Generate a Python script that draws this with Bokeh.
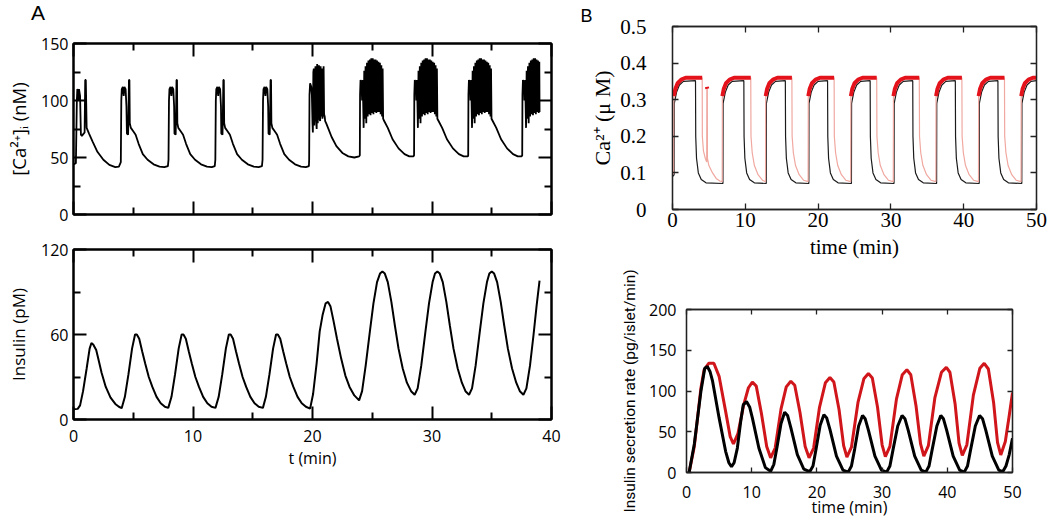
from bokeh.plotting import figure
from bokeh.models import LinearAxis, FixedTicker, Range1d, Spacer, Div
from bokeh.layouts import row, column
from bokeh.embed import file_html
from bokeh.resources import INLINE

# ---------------- Panel A (top): cytosolic Ca2+ (nM) ----------------
ca_t = [0.0, 0.2, 0.28, 0.32, 0.38, 0.42, 0.46, 0.55, 0.62, 0.7, 0.93, 0.98, 1.03, 1.1, 1.3, 1.6, 2.0, 2.5, 3.0, 3.5, 3.8, 3.96,
        4.0, 4.04, 4.13, 4.2, 4.26, 4.36, 4.43, 4.47, 4.57, 4.61, 4.64, 4.68, 4.71, 4.8, 5.0, 5.2, 5.45, 5.8, 6.2, 6.7, 7.2, 7.6, 7.9,
        7.95, 7.99, 8.03, 8.12, 8.19, 8.25, 8.35, 8.42, 8.45, 8.55, 8.59, 8.62, 8.66, 8.69, 8.77, 8.97, 9.17, 9.42, 9.77, 10.17, 10.67, 11.17, 11.57, 11.82,
        11.87, 11.91, 11.95, 12.04, 12.11, 12.17, 12.27, 12.34, 12.37, 12.47, 12.51, 12.54, 12.58, 12.61, 12.69, 12.89, 13.09, 13.34, 13.69, 14.09, 14.59, 15.09, 15.49, 15.77,
        15.82, 15.86, 15.9, 15.99, 16.06, 16.12, 16.22, 16.29, 16.32, 16.42, 16.46, 16.49, 16.53, 16.56, 16.64, 16.84, 17.04, 17.29, 17.64, 18.04, 18.54, 19.04, 19.44, 19.7,
        19.72, 19.75, 19.8, 19.9, 19.95, 20.0, 20.03, 20.07, 20.11, 20.15, 20.2, 20.25, 20.29, 20.35, 20.39, 20.44, 20.5, 20.54, 20.58, 20.64, 20.68, 20.72, 20.78, 20.83, 20.88, 20.93, 20.97, 21.02, 21.06, 21.15, 21.3, 21.6, 22.0, 22.5, 23.0, 23.5, 23.9,
        23.96, 23.98, 24.02, 24.1, 24.15, 24.2, 24.24, 24.28, 24.33, 24.38, 24.44, 24.5, 24.56, 24.62, 24.68, 24.74, 24.8, 24.86, 24.92, 24.98, 25.04, 25.1, 25.16, 25.22, 25.28, 25.34, 25.4, 25.46, 25.52, 25.58, 25.64, 25.7, 25.76, 25.82, 25.87, 25.91, 26.0, 26.3, 26.7, 27.2, 27.7, 28.1, 28.45,
        28.5, 28.52, 28.56, 28.64, 28.69, 28.74, 28.78, 28.82, 28.87, 28.92, 28.98, 29.04, 29.1, 29.16, 29.22, 29.28, 29.34, 29.4, 29.46, 29.52, 29.58, 29.64, 29.7, 29.76, 29.82, 29.88, 29.94, 30.0, 30.06, 30.12, 30.18, 30.24, 30.3, 30.36, 30.41, 30.45, 30.55, 30.85, 31.25, 31.75, 32.25, 32.65, 33.0,
        33.03, 33.05, 33.09, 33.17, 33.22, 33.27, 33.31, 33.35, 33.4, 33.45, 33.51, 33.57, 33.63, 33.69, 33.75, 33.81, 33.87, 33.93, 33.99, 34.05, 34.11, 34.17, 34.23, 34.29, 34.35, 34.41, 34.47, 34.53, 34.59, 34.65, 34.71, 34.77, 34.83, 34.89, 34.94, 34.98, 35.08, 35.38, 35.78, 36.28, 36.78, 37.18, 37.5,
        37.55, 37.57, 37.61, 37.69, 37.74, 37.79, 37.83, 37.87, 37.92, 37.97, 38.03, 38.09, 38.15, 38.21, 38.27, 38.33, 38.39, 38.45, 38.51, 38.57, 38.63, 38.69, 38.75, 38.81, 38.87, 38.93, 38.98, 39.0]
ca_v = [44, 45, 100, 110, 108, 100, 110, 104, 70, 69, 72, 118, 118, 76, 71, 64, 55, 48, 43.5, 41.5, 42, 46,
        100, 110, 112, 104, 112, 110, 95, 71, 70, 95, 118, 118, 80, 76, 73, 70, 62, 53, 48, 44, 42, 41.5, 42.5,
        48, 100, 110, 112, 104, 112, 110, 95, 71, 70, 95, 118, 118, 80, 76, 73, 70, 62, 53, 48, 44, 42, 41.5, 42.5,
        48, 100, 110, 112, 104, 112, 110, 95, 71, 70, 95, 118, 118, 80, 76, 73, 70, 62, 53, 48, 44, 42, 41.5, 42.5,
        48, 100, 110, 112, 104, 112, 110, 95, 71, 70, 95, 118, 118, 80, 76, 73, 70, 62, 53, 48, 44, 42, 41.5, 42.5,
        48, 105, 115, 112, 104, 80, 72, 125, 128, 78, 120, 130, 85, 75, 132, 80, 125, 131, 84, 82, 130, 86, 128, 84, 88, 130, 88, 86, 82, 80, 76, 68, 60, 54, 51, 50, 51,
        52, 105, 118, 116, 100, 118, 98, 76, 126, 84, 130, 80, 133, 86, 135, 88, 136, 87, 137, 89, 137, 88, 136, 90, 136, 89, 135, 90, 134, 90, 133, 88, 131, 86, 128, 84, 82, 76, 66, 58, 53, 51, 51,
        52, 105, 118, 116, 100, 118, 98, 76, 126, 84, 130, 80, 133, 86, 135, 88, 136, 87, 137, 89, 137, 88, 136, 90, 136, 89, 135, 90, 134, 90, 133, 88, 131, 86, 128, 84, 82, 76, 66, 58, 53, 51, 51,
        52, 105, 118, 116, 100, 118, 98, 76, 126, 84, 130, 80, 133, 86, 135, 88, 136, 87, 137, 89, 137, 88, 136, 90, 136, 89, 135, 90, 134, 90, 133, 88, 131, 86, 128, 84, 82, 76, 66, 58, 53, 51, 51,
        52, 105, 118, 116, 100, 118, 98, 76, 126, 84, 130, 80, 133, 86, 135, 88, 136, 87, 137, 89, 137, 88, 136, 90, 135, 89, 134, 90]

# ---------------- Panel A (bottom): insulin (pM) ----------------
ins_t = [0.0, 0.35, 0.55, 0.8, 1.1, 1.35, 1.5, 1.65, 1.9, 2.1, 2.35, 2.7, 3.1, 3.5, 3.8, 4.03,
         4.3, 4.6, 4.9, 5.15, 5.3, 5.5, 5.75, 6.0, 6.3, 6.6, 6.95, 7.3, 7.65, 7.93,
         8.2, 8.5, 8.8, 9.05, 9.2, 9.4, 9.65, 9.9, 10.2, 10.5, 10.85, 11.2, 11.55, 11.88,
         12.15, 12.45, 12.75, 13.0, 13.15, 13.35, 13.6, 13.85, 14.15, 14.45, 14.8, 15.15, 15.5, 15.85,
         16.1, 16.4, 16.7, 16.95, 17.1, 17.3, 17.55, 17.8, 18.1, 18.4, 18.75, 19.1, 19.45, 19.8,
         20.05, 20.35, 20.6, 20.85, 21.1, 21.3, 21.5, 21.75, 22.05, 22.4, 22.75, 23.1, 23.5, 23.9,
         24.15, 24.45, 24.8, 25.1, 25.4, 25.65, 25.85, 26.05, 26.3, 26.6, 26.9, 27.2, 27.55, 27.9, 28.25, 28.55,
         28.8, 29.1, 29.45, 29.75, 30.05, 30.25, 30.45, 30.65, 30.9, 31.2, 31.5, 31.8, 32.15, 32.5, 32.8, 33.1,
         33.35, 33.65, 34.0, 34.3, 34.6, 34.8, 35.0, 35.2, 35.45, 35.75, 36.05, 36.35, 36.7, 37.05, 37.35, 37.65,
         37.9, 38.2, 38.5, 38.75, 39.0]
ins_v = [7.3, 7.5, 10, 20, 36, 50, 54, 53, 49, 42, 33, 23, 15.5, 11, 9, 8,
         16, 32, 50, 60, 60, 57, 48, 39.5, 30, 23, 16, 11.5, 9, 8.2,
         16, 32, 50, 60, 60, 57, 48, 39.5, 30, 23, 16, 11.5, 9, 8.2,
         16, 32, 50, 60, 60, 57, 48, 39.5, 30, 23, 16, 11.5, 9, 8.2,
         16, 32, 50, 60, 60, 57, 48, 39.5, 30, 23, 16, 11.5, 9, 7.7,
         18, 40, 62, 74, 82, 83, 80, 70, 57, 43, 31, 23, 17, 13.5,
         20, 38, 62, 82, 97, 103, 104.5, 103, 97, 83, 66, 50, 36, 26, 20, 17.5,
         22, 38, 62, 82, 97, 103, 104.5, 103, 97, 83, 66, 50, 36, 26, 20, 17.5,
         22, 38, 62, 82, 97, 103, 104.5, 103, 97, 83, 66, 50, 36, 26, 20, 17.5,
         22, 38, 60, 80, 98]

# ---------------- Panel B (top): Ca2+ (uM), two simulations ----------------
cab_t = [0.0, 0.22, 0.25, 0.55, 0.95, 1.5, 3.16, 3.19, 3.3, 3.55, 3.95, 4.6, 6.93,
         6.95, 7.25, 7.65, 8.2, 9.8, 9.83, 9.94, 10.19, 10.59, 11.24, 12.88,
         12.9, 13.2, 13.6, 14.15, 15.5, 15.53, 15.64, 15.89, 16.29, 16.94, 18.73,
         18.75, 19.05, 19.45, 20.0, 21.3, 21.33, 21.44, 21.69, 22.09, 22.74, 24.58,
         24.6, 24.9, 25.3, 25.85, 27.15, 27.18, 27.29, 27.54, 27.94, 28.59, 30.43,
         30.45, 30.75, 31.15, 31.7, 33.0, 33.03, 33.14, 33.39, 33.79, 34.44, 36.28,
         36.3, 36.6, 37.0, 37.55, 38.85, 38.88, 38.99, 39.24, 39.64, 40.29, 42.13,
         42.15, 42.45, 42.85, 43.4, 44.7, 44.73, 44.84, 45.09, 45.49, 46.14, 47.98,
         48.0, 48.3, 48.7, 49.25, 50.0]
cab_v = [0.09, 0.095, 0.29, 0.32, 0.34, 0.35, 0.352, 0.2, 0.14, 0.1, 0.082, 0.073, 0.071,
         0.29, 0.32, 0.34, 0.35, 0.352, 0.2, 0.14, 0.1, 0.082, 0.073, 0.071,
         0.29, 0.32, 0.34, 0.35, 0.352, 0.2, 0.14, 0.1, 0.082, 0.073, 0.071,
         0.29, 0.32, 0.34, 0.35, 0.352, 0.2, 0.14, 0.1, 0.082, 0.073, 0.071,
         0.29, 0.32, 0.34, 0.35, 0.352, 0.2, 0.14, 0.1, 0.082, 0.073, 0.071,
         0.29, 0.32, 0.34, 0.35, 0.352, 0.2, 0.14, 0.1, 0.082, 0.073, 0.071,
         0.29, 0.32, 0.34, 0.35, 0.352, 0.2, 0.14, 0.1, 0.082, 0.073, 0.071,
         0.29, 0.32, 0.34, 0.35, 0.352, 0.2, 0.14, 0.1, 0.082, 0.073, 0.071,
         0.29, 0.32, 0.34, 0.35, 0.352]

car_t = [0.0, 0.15, 0.18, 0.4, 0.7, 1.2, 1.8, 4.08, 4.1, 4.25, 4.5, 4.7, 4.72, 4.78, 4.8, 5.0, 5.5, 6.0, 6.5, 6.83,
         6.85, 7.05, 7.35, 7.85, 8.45, 10.75, 10.78, 10.95, 11.25, 11.75, 12.35, 12.78,
         12.8, 13.0, 13.3, 13.8, 14.4, 16.4, 16.43, 16.6, 16.9, 17.4, 18.0, 18.63,
         18.65, 18.85, 19.15, 19.65, 20.25, 22.2, 22.23, 22.4, 22.7, 23.2, 23.8, 24.48,
         24.5, 24.7, 25.0, 25.5, 26.1, 28.05, 28.08, 28.25, 28.55, 29.05, 29.65, 30.33,
         30.35, 30.55, 30.85, 31.35, 31.95, 33.9, 33.93, 34.1, 34.4, 34.9, 35.5, 36.18,
         36.2, 36.4, 36.7, 37.2, 37.8, 39.75, 39.78, 39.95, 40.25, 40.75, 41.35, 42.03,
         42.05, 42.25, 42.55, 43.05, 43.65, 45.6, 45.63, 45.8, 46.1, 46.6, 47.2, 47.88,
         47.9, 48.1, 48.4, 48.9, 49.5, 50.0]
car_v = [0.095, 0.1, 0.31, 0.33, 0.345, 0.355, 0.36, 0.36, 0.2, 0.16, 0.14, 0.13, 0.335, 0.33, 0.14, 0.12, 0.1, 0.085, 0.078, 0.076,
         0.31, 0.33, 0.345, 0.355, 0.36, 0.36, 0.2, 0.155, 0.12, 0.095, 0.08, 0.076,
         0.31, 0.33, 0.345, 0.355, 0.36, 0.36, 0.2, 0.155, 0.12, 0.095, 0.08, 0.076,
         0.31, 0.33, 0.345, 0.355, 0.36, 0.36, 0.2, 0.155, 0.12, 0.095, 0.08, 0.076,
         0.31, 0.33, 0.345, 0.355, 0.36, 0.36, 0.2, 0.155, 0.12, 0.095, 0.08, 0.076,
         0.31, 0.33, 0.345, 0.355, 0.36, 0.36, 0.2, 0.155, 0.12, 0.095, 0.08, 0.076,
         0.31, 0.33, 0.345, 0.355, 0.36, 0.36, 0.2, 0.155, 0.12, 0.095, 0.08, 0.076,
         0.31, 0.33, 0.345, 0.355, 0.36, 0.36, 0.2, 0.155, 0.12, 0.095, 0.08, 0.076,
         0.31, 0.33, 0.345, 0.355, 0.36, 0.36]

# ---------------- Panel B (bottom): insulin secretion rate ----------------
isr_red_t = [0.4, 1.2, 2.2, 2.7, 3.4, 4.2, 5.0, 6.0, 6.7, 7.2, 7.9, 8.8, 9.5, 10.1, 10.7, 11.5, 12.3, 12.9,
             13.6, 14.5, 15.3, 16.0, 16.6, 17.4, 18.2, 18.8, 19.5, 20.4, 21.3, 22.0, 22.6, 23.4, 24.1, 24.6,
             25.3, 26.3, 27.2, 27.9, 28.5, 29.3, 30.0, 30.5, 31.2, 32.2, 33.1, 33.8, 34.4, 35.2, 35.9, 36.4,
             37.1, 38.1, 39.1, 39.85, 40.4, 41.2, 41.8, 42.3, 43.0, 44.0, 45.0, 45.66, 46.3, 47.1, 47.7, 48.2,
             48.9, 49.5, 50.0]
isr_red_v = [0, 32, 103, 126, 134, 134, 118, 75, 44, 35, 48, 84, 104, 111, 106, 72, 32, 18,
             30, 78, 105, 112, 107, 74, 32, 18, 30, 80, 110, 116.5, 111, 77, 33, 19,
             31, 86, 115, 121.5, 116, 80, 34, 19.5, 32, 90, 120, 126, 120, 82, 35, 20,
             33, 92, 123, 129, 123, 84, 36, 21, 34, 95, 128, 134, 127, 86, 37, 21.5,
             38, 70, 98]
isr_blk_t = [0.4, 1.2, 2.2, 2.8, 3.2, 3.6, 4.0, 5.0, 6.0, 6.5, 6.9, 7.3, 7.8, 8.3, 8.7, 9.2, 9.7, 10.1, 11.1, 12.1, 12.9,
             13.4, 13.9, 14.5, 15.05, 15.5, 16.0, 17.0, 18.0, 18.9, 19.4, 19.9, 20.5, 21.07, 21.5, 22.0, 23.0, 24.0, 24.8,
             25.3, 25.8, 26.4, 27.0, 27.4, 27.9, 28.9, 29.9, 30.7, 31.2, 31.7, 32.4, 33.06, 33.5, 34.0, 35.0, 36.0, 36.7,
             37.2, 37.7, 38.4, 39.0, 39.4, 39.9, 40.9, 41.9, 42.6, 43.1, 43.6, 44.3, 44.95, 45.4, 45.9, 46.9, 47.9, 48.5,
             49.0, 49.5, 50.0]
isr_blk_v = [0, 35, 99, 128, 130, 124, 112, 67, 26, 12, 7, 12, 30, 62, 83, 87, 80, 67, 30, 6, 1.5,
             10, 32, 60, 74, 70, 55, 22, 4, 1, 8, 30, 58, 71, 67, 53, 20, 3, 0.5,
             8, 29, 57, 70, 66, 52, 20, 3, 0.5, 8, 29, 57, 70, 66, 52, 20, 3, 0.5,
             8, 29, 57, 70, 66, 52, 20, 3, 0.5, 8, 29, 57, 70, 66, 52, 20, 3, 1,
             8, 22, 42]

# tick definitions
a_x_ticks = [0, 10, 20, 30, 40]
a_x_minor = [5, 15, 25, 35]
a1_y_ticks = [0, 50, 100, 150]
a1_y_minor = [25, 75, 125]
a2_y_ticks = [0, 60, 120]
a2_y_minor = [30, 90]
b_x_ticks = [0, 10, 20, 30, 40, 50]
b1_y_ticks = [0, 0.1, 0.2, 0.3, 0.4, 0.5]
b2_y_ticks = [0, 50, 100, 150, 200]

SANS = "Open Sans"
SERIF = "Liberation Serif"


def make(fw, fh, bl, br, bt, bb, xr, yr):
    p = figure(frame_width=fw, frame_height=fh, min_border_left=bl, min_border_right=br,
               min_border_top=bt, min_border_bottom=bb, x_range=Range1d(*xr), y_range=Range1d(*yr),
               output_backend="svg", toolbar_location=None)
    p.grid.visible = False
    p.background_fill_color = "white"
    p.border_fill_color = "white"
    p.add_layout(LinearAxis(), "above")
    p.add_layout(LinearAxis(), "right")
    return p


def hide_labels(ax):
    ax.major_label_text_font_size = "1px"
    ax.major_label_text_color = None
    ax.major_label_standoff = 0


def style(p, xt, xm, yt, ym, font, fs, lw, tin, mtin, col="black"):
    p.outline_line_color = col
    p.outline_line_width = lw
    for ax in p.xaxis:
        ax.ticker = FixedTicker(ticks=xt, minor_ticks=xm)
    for ax in p.yaxis:
        ax.ticker = FixedTicker(ticks=yt, minor_ticks=ym)
    for ax in p.axis:
        ax.major_tick_in = tin
        ax.major_tick_out = 0
        ax.minor_tick_in = mtin
        ax.minor_tick_out = 0
        ax.axis_line_width = lw
        ax.axis_line_color = col
        ax.major_tick_line_width = lw
        ax.minor_tick_line_width = lw
        ax.major_tick_line_color = col
        ax.minor_tick_line_color = col
        ax.major_label_text_font = font
        ax.major_label_text_font_size = fs
        ax.major_label_text_color = "black"
        ax.axis_label_text_font = font
        ax.axis_label_text_font_style = "normal"
        ax.axis_label_text_color = "black"
    hide_labels(p.above[0])
    hide_labels(p.right[0])


# ---- A top ----
pa1 = make(478, 171, 73, 19, 19, 18, (0, 40), (0, 150))
style(pa1, a_x_ticks, a_x_minor, a1_y_ticks, a1_y_minor, SANS, "16px", 2, 13, 7)
hide_labels(pa1.below[0])
pa1.left[0].major_label_standoff = 5
pa1.left[0].axis_label = "[Ca²⁺]ᵢ (nM)"
pa1.left[0].axis_label_text_font_size = "18.5px"
pa1.left[0].axis_label_standoff = 7
pa1.line(ca_t, ca_v, line_color="black", line_width=1.8)

# ---- A bottom ----
pa2 = make(478, 170, 73, 19, 17, 98, (0, 40), (0, 120))
style(pa2, a_x_ticks, a_x_minor, a2_y_ticks, a2_y_minor, SANS, "16px", 2, 13, 7)
pa2.left[0].major_label_standoff = 5
pa2.below[0].major_label_standoff = 10
pa2.left[0].axis_label = "Insulin (pM)"
pa2.left[0].axis_label_text_font_size = "17px"
pa2.left[0].axis_label_standoff = 8
pa2.below[0].axis_label = "t (min)"
pa2.below[0].axis_label_text_font_size = "16px"
pa2.below[0].axis_label_standoff = 2
pa2.line(ins_t, ins_v, line_color="black", line_width=2)

# ---- B top ----
pb1 = make(364, 183, 102, 14, 26, 51, (0, 50), (0, 0.5))
style(pb1, b_x_ticks, [], b1_y_ticks, [], SERIF, "21px", 1.3, 6, 0, col="#222222")
pb1.left[0].major_label_standoff = 26
pb1.below[0].major_label_standoff = 3
pb1.left[0].axis_label = "Ca²⁺ (μ M)"
pb1.left[0].axis_label_text_font_size = "22px"
pb1.left[0].axis_label_standoff = 2
pb1.below[0].axis_label = "time (min)"
pb1.below[0].axis_label_text_font_size = "21px"
pb1.below[0].axis_label_standoff = 5
pb1.title.text = "B"
pb1.title.align = "left"
pb1.title.offset = -92
pb1.title.standoff = 2
pb1.title.text_font = "Liberation Sans"
pb1.title.text_font_size = "18px"
pb1.title.text_font_style = "normal"
pb1.title.text_color = "black"
pb1.title.text_line_height = 1.0
pb1.line(cab_t, cab_v, line_color="#1a1a1a", line_width=1.2)
pb1.line(car_t, car_v, line_color="#f0a8a0", line_width=1.2)
runs_x, runs_y, cx, cy = [], [], [], []
for t, v in zip(car_t, car_v):
    if v >= 0.3:
        cx.append(t)
        cy.append(v)
    elif cx:
        runs_x.append(cx)
        runs_y.append(cy)
        cx, cy = [], []
if cx:
    runs_x.append(cx)
    runs_y.append(cy)
pb1.multi_line(runs_x, runs_y, line_color="#e3121b", line_width=4)

# ---- B bottom ----
pb2 = make(326, 163, 102, 14, 48, 46, (0, 50), (0, 200))
style(pb2, b_x_ticks, [], b2_y_ticks, [], SANS, "16px", 1.3, 5, 0, col="#222222")
pb2.left[0].major_label_standoff = 10
pb2.below[0].major_label_standoff = 13
pb2.left[0].axis_label = "Insulin secretion rate (pg/islet/min)"
pb2.left[0].axis_label_text_font = "Roboto"
pb2.left[0].axis_label_text_font_size = "15.5px"
pb2.left[0].axis_label_standoff = 7
pb2.below[0].axis_label = "time (min)"
pb2.below[0].axis_label_text_font_size = "16px"
pb2.below[0].axis_label_standoff = -5
pb2.line(isr_red_t, isr_red_v, line_color="#d0161b", line_width=3)
pb2.line(isr_blk_t, isr_blk_v, line_color="black", line_width=3)

div_a = Div(text="A", width=570, height=24, margin=(0, 0, 0, 0),
            styles={"font-family": "Liberation Sans, Arial, sans-serif", "font-size": "21px",
                    "line-height": "26px", "padding-left": "31px", "color": "black", "overflow": "visible"})

layout = row(column(div_a, pa1, pa2),
             column(pb1, row(Spacer(width=14, height=257), pb2, Spacer(width=24, height=257))))
open("out.html", "w").write(file_html(layout, INLINE))
